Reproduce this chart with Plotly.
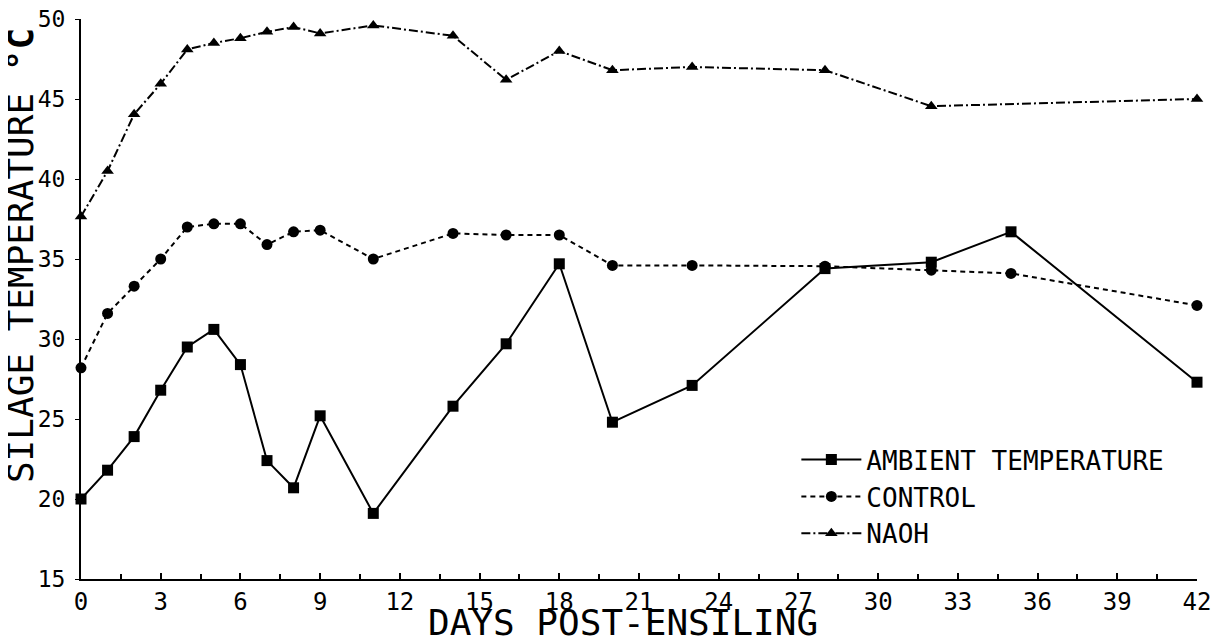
import plotly.graph_objects as go

# ---- data ----
ambient_days = [0, 1, 2, 3, 4, 5, 6, 7, 8, 9, 11, 14, 16, 18, 20, 23, 28, 32, 35, 42]
ambient_temp = [20.0, 21.8, 23.9, 26.8, 29.5, 30.6, 28.4, 22.4, 20.7, 25.2,
                19.1, 25.8, 29.7, 34.7, 24.8, 27.1, 34.4, 34.8, 36.7, 27.3]

control_days = [0, 1, 2, 3, 4, 5, 6, 7, 8, 9, 11, 14, 16, 18, 20, 23, 28, 32, 35, 42]
control_temp = [28.2, 31.6, 33.3, 35.0, 37.0, 37.2, 37.2, 35.9, 36.7, 36.8,
                35.0, 36.6, 36.5, 36.5, 34.6, 34.6, 34.55, 34.3, 34.1, 32.1]

naoh_days = [0, 1, 2, 3, 4, 5, 6, 7, 8, 9, 11, 14, 16, 18, 20, 23, 28, 32, 42]
naoh_temp = [37.65, 40.5, 44.05, 45.95, 48.1, 48.5, 48.8, 49.2, 49.5, 49.1,
             49.6, 48.95, 46.2, 48.0, 46.8, 47.0, 46.8, 44.55, 45.0]

series_names = ["AMBIENT TEMPERATURE", "CONTROL", "NAOH"]

x_ticks = list(range(0, 43, 3))
y_ticks = list(range(15, 51, 5))

FONT = "DejaVu Sans Mono"

fig = go.Figure()

fig.add_trace(go.Scatter(
    x=ambient_days, y=ambient_temp, name=series_names[0],
    mode="lines+markers",
    line=dict(color="black", width=2),
    marker=dict(symbol="square", size=11, color="black"),
    cliponaxis=False,
))
fig.add_trace(go.Scatter(
    x=control_days, y=control_temp, name=series_names[1],
    mode="lines+markers",
    line=dict(color="black", width=2, dash="5px,4px"),
    marker=dict(symbol="circle", size=11, color="black"),
    cliponaxis=False,
))
fig.add_trace(go.Scatter(
    x=naoh_days, y=naoh_temp, name=series_names[2],
    mode="lines+markers",
    line=dict(color="black", width=2, dash="9px,3px,2px,3px"),
    marker=dict(symbol="triangle-up", size=11, color="black"),
    cliponaxis=False,
))

# the page body has an 8px margin, so the figure is sized/offset to compensate
fig.update_layout(
    width=1221, height=634,
    margin=dict(l=73, r=32, t=11, b=63, autoexpand=False),
    paper_bgcolor="white", plot_bgcolor="white",
    font=dict(family=FONT, color="black", size=22),
    showlegend=True,
    legend=dict(
        x=0.641, y=0.255, xanchor="left", yanchor="top",
        itemwidth=60,
        bgcolor="rgba(0,0,0,0)", borderwidth=0,
        font=dict(family=FONT, size=26, color="black"),
        tracegroupgap=0,
    ),
    xaxis=dict(
        range=[0, 42], showgrid=False, zeroline=False, automargin=False,
        showline=True, linecolor="black", linewidth=2,
        tickmode="array", tickvals=x_ticks,
        ticktext=[str(v) for v in x_ticks],
        ticks="inside", ticklen=6, tickwidth=2, tickcolor="black",
        minor=dict(dtick=1.5, tick0=0, ticks="inside", ticklen=5,
                   tickwidth=2, tickcolor="black", showgrid=False),
        ticklabeloverflow="allow",
        tickfont=dict(family=FONT, size=24, color="black"),
    ),
    yaxis=dict(
        range=[15, 50], showgrid=False, zeroline=False, automargin=False,
        showline=True, linecolor="black", linewidth=2,
        tickmode="array", tickvals=y_ticks,
        ticktext=[str(v) for v in y_ticks],
        ticks="outside", ticklen=4, tickwidth=1, tickcolor="black",
        ticklabelstandoff=5, ticklabeloverflow="allow",
        tickfont=dict(family=FONT, size=23, color="black"),
    ),
    annotations=[
        dict(text="DAYS POST-ENSILING", xref="paper", yref="paper",
             x=0.4857, y=-0.078, xanchor="center", yanchor="middle",
             showarrow=False, font=dict(family=FONT, size=36, color="black")),
        dict(text="SILAGE TEMPERATURE <b>°C</b>", xref="paper", yref="paper",
             x=-0.054, y=0.578, xanchor="center", yanchor="middle",
             textangle=-90, showarrow=False,
             font=dict(family=FONT, size=36, color="black")),
    ],
)

fig.write_html("out.html")
